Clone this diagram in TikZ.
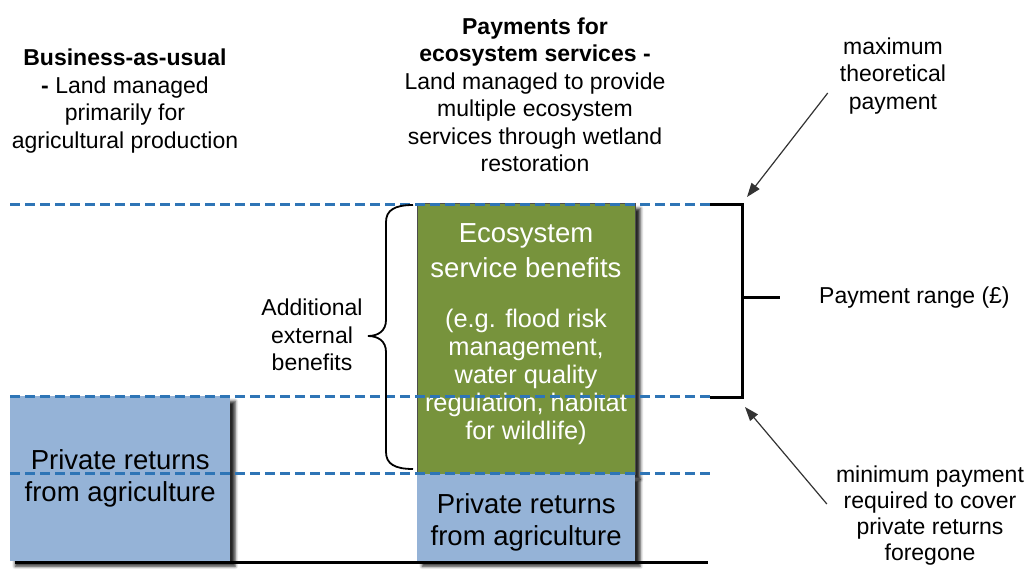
\documentclass[tikz,border=0pt]{standalone}
\usepackage{fontspec}
\setmainfont{Liberation Sans}
\usetikzlibrary{calc,arrows.meta,shadows.blur}
\definecolor{levelblue}{RGB}{46,117,182}
\definecolor{agriblue}{RGB}{149,179,215}
\definecolor{esgreen}{RGB}{119,147,60}
\tikzset{
  level/.style={levelblue, line width=3pt, dash pattern=on 10pt off 5pt},
  bar/.style={black, line width=3pt},
  ptr/.style={black!80, line width=1.2pt, -{Triangle[length=14pt,width=10pt]}},
  shadowed/.style={blur shadow={shadow xshift=5pt, shadow yshift=-5pt, shadow blur radius=3pt, shadow opacity=85}},
  agribox/.style={shadowed, fill=agriblue, inner sep=0pt, anchor=north west, align=center,
    font=\fontsize{27.5}{32}\selectfont},
  esbox/.style={shadowed, fill=esgreen, draw=black!70, line width=0.8pt, inner sep=0pt, anchor=north west},
  lbl/.style={align=center, inner sep=4pt, font=\fontsize{23}{27.5}\selectfont}
}
\begin{document}
\begin{tikzpicture}[x=1pt, y=-1pt]
  \useasboundingbox (0,0) rectangle (1028,571);
  % column headings
  \node[lbl] (bauhead) at (125,101) {\textbf{Business-as-usual}\\\textbf{-} Land managed\\primarily for\\agricultural production};
  \node[lbl] (peshead) at (535,95) {\textbf{Payments for}\\\textbf{ecosystem services -}\\Land managed to provide\\multiple ecosystem\\services through wetland\\restoration};
  % boxes
  \node[agribox, minimum width=220pt, minimum height=165pt] (bau) at (10,396) {Private returns\\from agriculture};
  \node[esbox, minimum width=218pt, minimum height=271pt] (esb) at (417,203) {};
  \node[agribox, minimum width=218pt, minimum height=87pt] (pra) at (417,474) {\\[-2pt]Private returns\\from agriculture};
  \node[align=center, text=white, font=\fontsize{27.5}{35}\selectfont] (estitle) at (526,251) {Ecosystem\\service benefits};
  \node[align=center, text=white, font=\fontsize{25.4}{28.2}\selectfont] (esnote) at (526,377) {(e.g. flood risk\\management,\\water quality\\regulation, habitat\\for wildlife)};
  % levels
  \draw[level] (10,204) -- (710,204);
  \draw[level] (10,396) -- (710,396);
  \draw[level] (10,473) -- (710,473);
  \draw[bar] (15,562) -- (708,562);
  % brace
  \draw[line width=1.8pt] (413,205) .. controls (395,205) and (386,210) .. (386,222) -- (386,320)
    .. controls (386,331) and (378,336) .. (368,336) .. controls (378,336) and (386,341) .. (386,352)
    -- (386,452) .. controls (386,464) and (395,469) .. (413,469);
  \node[lbl] (extra) at (312,335) {Additional\\external\\benefits};
  % payment range
  \coordinate (rtop) at (742,204);
  \coordinate (rbot) at (742,397);
  \draw[bar] (710,204) -- (rtop) -- (rbot) -- (710,397);
  \draw[bar] ($(rtop)!0.485!(rbot)$) coordinate (rmid) -- ++(38,0);
  \node[lbl, anchor=west] (range) at (815,298) {Payment range (£)};
  \node[lbl] (maxpay) at (893,76) {maximum\\theoretical\\payment};
  \node[lbl, font=\fontsize{23}{26}\selectfont] (minpay) at (930,516) {minimum payment\\required to cover\\private returns\\foregone};
  \draw[ptr] ([shift={(-8,17)}]maxpay.west) -- ([shift={(5,-7)}]rtop);
  \draw[ptr] ([shift={(-5,-12)}]minpay.west) -- ([shift={(3,10)}]rbot);
\end{tikzpicture}
\end{document}
